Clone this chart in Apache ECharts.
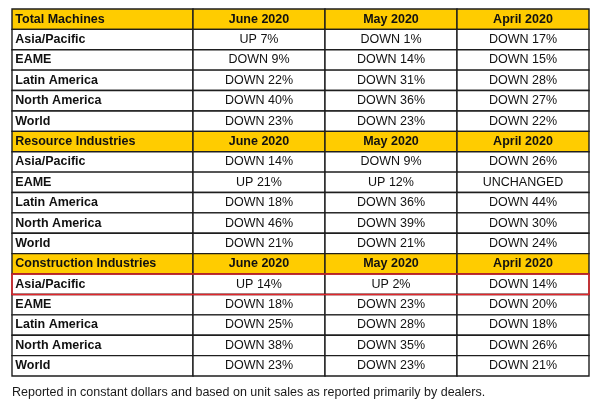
<!DOCTYPE html>
<html>
<head>
<meta charset="utf-8">
<script src="https://cdn.jsdelivr.net/npm/echarts@6/dist/echarts.min.js"></script>
<style>html,body{margin:0;padding:0;background:#fff}#c{width:600px;height:401px}</style>
</head>
<body>
<div id="c"></div>
<script>
// ---- data ----
const sections = ['Total Machines', 'Resource Industries', 'Construction Industries'];
const regions = ['Asia/Pacific', 'EAME', 'Latin America', 'North America', 'World'];
const months = ['June 2020', 'May 2020', 'April 2020'];
// percent change per region (Asia/Pacific, EAME, Latin America, North America, World)
const totalJune = [7, -9, -22, -40, -23];
const totalMay = [-1, -14, -31, -36, -23];
const totalApril = [-17, -15, -28, -27, -22];
const resourceJune = [-14, 21, -18, -46, -21];
const resourceMay = [-9, 12, -36, -39, -21];
const resourceApril = [-26, 0, -44, -30, -24];
const constructionJune = [14, -18, -25, -38, -23];
const constructionMay = [2, -23, -28, -35, -23];
const constructionApril = [-14, -20, -18, -26, -21];
const highlight = ['Construction Industries', 'Asia/Pacific'];
const footnote = 'Reported in constant dollars and based on unit sales as reported primarily by dealers.';

// ---- build ----
const sectionData = [
  [totalJune, totalMay, totalApril],
  [resourceJune, resourceMay, resourceApril],
  [constructionJune, constructionMay, constructionApril]
];
function fmt(v) {
  if (v > 0) return 'UP ' + v + '%';
  if (v < 0) return 'DOWN ' + (-v) + '%';
  return 'UNCHANGED';
}
const rowIds = [];
const labelData = [];
const cellData = [];
sections.forEach((sec, s) => {
  const hr = rowIds.length;
  rowIds.push('r' + hr);
  labelData.push([0, hr, sec, 1]);
  months.forEach((m, j) => cellData.push([j, hr, m, 1]));
  regions.forEach((reg, i) => {
    const r = rowIds.length;
    rowIds.push('r' + r);
    labelData.push([0, r, reg, 0]);
    months.forEach((m, j) => cellData.push([j, r, fmt(sectionData[s][j][i]), 0]));
  });
});
const hlRow = sections.indexOf(highlight[0]) * (regions.length + 1) + 1 + regions.indexOf(highlight[1]);

const GOLD = '#FFCC00';
const LINE = '#1e1e1e';
const FONT = '"Liberation Sans", Arial, sans-serif';

function cellRender(align) {
  return function (params, api) {
    const c = api.coord([api.value(0), api.value(1)]);
    const s = api.size([1, 1]);
    const header = api.value(3) === 1;
    const text = (align === 'left' ? labelData : cellData)[params.dataIndex][2];
    const bold = header || align === 'left';
    return {
      type: 'rect',
      shape: { x: c[0] - s[0] / 2, y: c[1] - s[1] / 2, width: s[0], height: s[1] },
      style: { fill: header ? GOLD : '#fff', stroke: LINE, lineWidth: 1.4 },
      textContent: {
        type: 'text',
        style: { text: text, font: (bold ? 'bold ' : '') + '12.5px ' + FONT, fill: '#111' }
      },
      textConfig: { position: align === 'left' ? 'insideLeft' : 'inside', distance: 4 }
    };
  };
}

function hlRender(side) {
  return function (params, api) {
    const row = api.value(0);
    if (side === 'left') {
      const c = api.coord([0, row]);
      const s = api.size([1, 1]);
      const x0 = c[0] - s[0] / 2, x1 = c[0] + s[0] / 2, y0 = c[1] - s[1] / 2, y1 = c[1] + s[1] / 2;
      return { type: 'polyline', shape: { points: [[x1, y0], [x0, y0], [x0, y1], [x1, y1]] },
        style: { stroke: '#e0262b', lineWidth: 1.5, fill: null } };
    }
    const a = api.coord([0, row]);
    const b = api.coord([months.length - 1, row]);
    const s = api.size([1, 1]);
    const x0 = a[0] - s[0] / 2, x1 = b[0] + s[0] / 2, y0 = a[1] - s[1] / 2, y1 = a[1] + s[1] / 2;
    return { type: 'polyline', shape: { points: [[x0, y0], [x1, y0], [x1, y1], [x0, y1]] },
      style: { stroke: '#e0262b', lineWidth: 1.5, fill: null } };
  };
}

const hidden = { show: false };
const chart = echarts.init(document.getElementById('c'), null, { renderer: 'canvas' });
chart.setOption({
  animation: false,
  backgroundColor: '#fff',
  title: {
    text: footnote, left: 7, top: 381,
    textStyle: { fontSize: 12.5, fontWeight: 'normal', color: '#1a1a1a', fontFamily: FONT }
  },
  grid: [
    { left: 12, top: 9, width: 181, height: 367 },
    { left: 193, top: 9, width: 396, height: 367 }
  ],
  xAxis: [
    { type: 'category', gridIndex: 0, data: ['label'], axisLine: hidden, axisTick: hidden, axisLabel: hidden, splitLine: hidden },
    { type: 'category', gridIndex: 1, data: months, axisLine: hidden, axisTick: hidden, axisLabel: hidden, splitLine: hidden }
  ],
  yAxis: [
    { type: 'category', gridIndex: 0, inverse: true, data: rowIds, axisLine: hidden, axisTick: hidden, axisLabel: hidden, splitLine: hidden },
    { type: 'category', gridIndex: 1, inverse: true, data: rowIds, axisLine: hidden, axisTick: hidden, axisLabel: hidden, splitLine: hidden }
  ],
  series: [
    { type: 'custom', xAxisIndex: 0, yAxisIndex: 0, data: labelData.map(d => [d[0], d[1], 0, d[3]]), renderItem: cellRender('left'), z: 2 },
    { type: 'custom', xAxisIndex: 1, yAxisIndex: 1, data: cellData.map(d => [d[0], d[1], 0, d[3]]), renderItem: cellRender('center'), z: 2 },
    { type: 'custom', xAxisIndex: 0, yAxisIndex: 0, data: [[hlRow]], renderItem: hlRender('left'), z: 5 },
    { type: 'custom', xAxisIndex: 1, yAxisIndex: 1, data: [[hlRow]], renderItem: hlRender('right'), z: 5 }
  ]
});
</script>
</body>
</html>
